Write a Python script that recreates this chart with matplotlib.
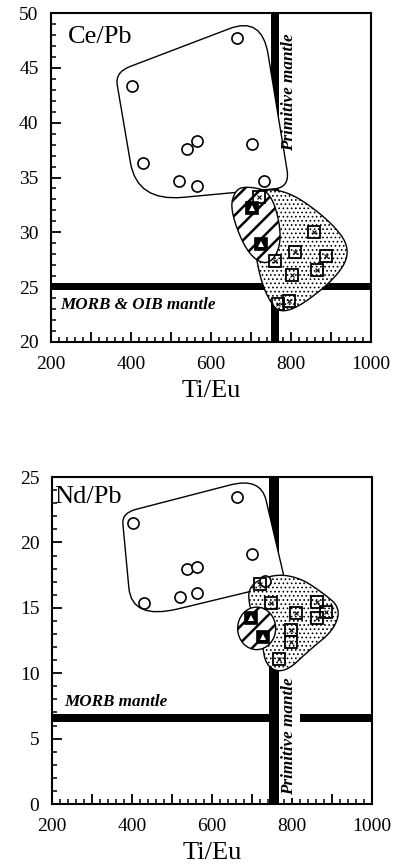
import matplotlib
matplotlib.use('Agg')
import matplotlib.pyplot as plt
from matplotlib.path import Path
from matplotlib.patches import PathPatch, Ellipse, Rectangle
from matplotlib.ticker import MultipleLocator, FuncFormatter
import numpy as np

plt.rcParams['font.family'] = ['Liberation Serif', 'DejaVu Serif']

# ── Ce/Pb panel data ─────────────────────────────────────────────────────────
ce_circ_x = [664, 403, 429, 539, 564, 703, 520, 564, 733]
ce_circ_y = [47.7, 43.3, 36.3, 37.6, 38.3, 38.1, 34.7, 34.25, 34.7]
ce_sq_x = [721, 857, 810, 887, 760, 864, 802, 768, 796]
ce_sq_y = [33.2, 30.05, 28.2, 27.8, 27.4, 26.6, 26.1, 23.5, 23.7]
ce_fill_x = [702, 725]
ce_fill_y = [32.2, 28.9]

# field outlines (Ce/Pb)
ce_open_x = [360, 727, 797, 415]
ce_open_y = [44.6, 49.7, 34.1, 32.8]
ce_open_r = [0.10, 0.22, 0.10, 0.30]
ce_dot_x = [697, 785, 897, 952, 910, 780, 735, 710]
ce_dot_y = [33.7, 34.0, 31.1, 28.4, 25.65, 22.2, 24.3, 27.9]
ce_hat_x = [692, 752, 780, 747, 692, 647, 660]
ce_hat_y = [34.2, 33.7, 29.3, 26.9, 27.9, 32.0, 33.9]

ce_morb = (24.75, 25.4)
ce_prim = (749, 769)

# ── Nd/Pb panel data ─────────────────────────────────────────────────────────
nd_circ_x = [662, 403, 701, 537, 563, 520, 564, 430, 732]
nd_circ_y = [23.45, 21.5, 19.1, 17.97, 18.1, 15.85, 16.1, 15.4, 17.05]
nd_sq_x = [720, 747, 810, 864, 886, 864, 797, 797, 768]
nd_sq_y = [16.85, 15.4, 14.6, 15.45, 14.7, 14.2, 13.3, 12.4, 11.1]
nd_fill_x = [699, 728]
nd_fill_y = [14.2, 12.8]

nd_open_x = [375, 722, 784, 400]
nd_open_y = [22.25, 25.0, 16.9, 14.07]
nd_open_r = [0.10, 0.22, 0.10, 0.30]
nd_dot_x = [690, 757, 820, 875, 922, 905, 845, 782, 735, 725, 695]
nd_dot_y = [16.74, 17.6, 17.3, 16.2, 15.0, 13.3, 11.8, 10.0, 10.5, 12.5, 14.8]
nd_hat_c = (712, 13.43)
nd_hat_w, nd_hat_h = 95, 3.25

nd_morb = (6.27, 6.9)
nd_prim = (742, 767)


def rounded_path(xs, ys, fr):
    pts = np.column_stack([xs, ys]).astype(float)
    n = len(pts)
    verts, codes = [], []
    for i in range(n):
        p0, p1, p2 = pts[i - 1], pts[i], pts[(i + 1) % n]
        a = p1 + (p0 - p1) * fr[i]
        b = p1 + (p2 - p1) * fr[i]
        verts.append(a)
        codes.append(Path.MOVETO if i == 0 else Path.LINETO)
        verts += [p1, b]
        codes += [Path.CURVE3, Path.CURVE3]
    verts.append(verts[0])
    codes.append(Path.CLOSEPOLY)
    return Path(verts, codes)


def chaikin_path(xs, ys, n_iter=4):
    pts = np.column_stack([xs, ys]).astype(float)
    for _ in range(n_iter):
        nxt = np.roll(pts, -1, axis=0)
        q = 0.75 * pts + 0.25 * nxt
        r = 0.25 * pts + 0.75 * nxt
        pts = np.empty((2 * len(q), 2))
        pts[0::2] = q
        pts[1::2] = r
    pts = np.vstack([pts, pts[:1]])
    return Path(pts, closed=True)


def hatched(patch, lw):
    if hasattr(patch, 'set_hatch_linewidth'):
        patch.set_hatch_linewidth(lw)
    return patch


def draw_markers(ax, cx, cy, sx, sy, fx, fy):
    ax.plot(cx, cy, 'o', ms=8, mfc='white', mec='black', mew=1.2, zorder=6)
    ax.plot(sx, sy, 's', ms=8, mfc='none', mec='black', mew=1.3, zorder=6)
    ax.plot(sx, sy, 'x', ms=2.5, mec='black', mew=0.8, zorder=6)
    ax.plot(fx, fy, 's', ms=8, mfc='black', mec='black', mew=1.2, zorder=6)
    ax.plot(fx, fy, '^', ms=4, mfc='white', mec='white', mew=0, zorder=7)


def style_axis(ax, ylim, ymaj):
    ax.set_xlim(200, 1000)
    ax.set_ylim(*ylim)
    ax.xaxis.set_major_locator(MultipleLocator(100))
    ax.xaxis.set_minor_locator(MultipleLocator(20))
    ax.xaxis.set_major_formatter(FuncFormatter(lambda v, _: f'{int(v)}' if v % 200 == 0 else ''))
    ax.yaxis.set_major_locator(MultipleLocator(ymaj))
    ax.yaxis.set_minor_locator(MultipleLocator(1))
    ax.tick_params(which='major', direction='in', length=7, width=1.3, labelsize=14)
    ax.tick_params(which='minor', direction='in', length=3.5, width=1.1)
    ax.tick_params(axis='x', pad=10)
    ax.tick_params(axis='y', pad=9)
    for s in ax.spines.values():
        s.set_linewidth(1.5)
    ax.set_xlabel('Ti/Eu', fontsize=19, labelpad=5)


fig = plt.figure(figsize=(3.99, 8.68), dpi=100)
ax1 = fig.add_axes([0.128, 0.606, 0.802, 0.379])
ax2 = fig.add_axes([0.130, 0.0737, 0.802, 0.3767])

note = dict(fontsize=12.3, style='italic', fontweight='bold')

# ── Ce/Pb ────────────────────────────────────────────────────────────────────
ax1.add_patch(Rectangle((200, ce_morb[0]), 800, ce_morb[1] - ce_morb[0],
                        color='black', lw=0, zorder=1))
ax1.add_patch(Rectangle((ce_prim[0], 20), ce_prim[1] - ce_prim[0], 30,
                        color='black', lw=0, zorder=1))
ax1.add_patch(PathPatch(rounded_path(ce_open_x, ce_open_y, ce_open_r),
                        fc='white', ec='black', lw=1.0, zorder=2))
ax1.add_patch(hatched(PathPatch(chaikin_path(ce_dot_x, ce_dot_y),
                                fc='white', ec='black', lw=1.0, hatch='....', zorder=3), 0.7))
ax1.add_patch(hatched(PathPatch(chaikin_path(ce_hat_x, ce_hat_y),
                                fc='white', ec='black', lw=1.0, hatch='//', zorder=4), 1.8))
draw_markers(ax1, ce_circ_x, ce_circ_y, ce_sq_x, ce_sq_y, ce_fill_x, ce_fill_y)
ax1.text(242, 47.8, 'Ce/Pb', fontsize=19, va='center', ha='left', zorder=8)
ax1.text(222, 23.4, 'MORB & OIB mantle', va='center', ha='left', zorder=8, **note)
ax1.text(774, 42.8, 'Primitive mantle', rotation=90, va='center', ha='left', zorder=8, **note)
style_axis(ax1, (20, 50), 5)

# ── Nd/Pb ────────────────────────────────────────────────────────────────────
ax2.add_patch(Rectangle((200, nd_morb[0]), 800, nd_morb[1] - nd_morb[0],
                        color='black', lw=0, zorder=1))
ax2.add_patch(Rectangle((nd_prim[0], 0), nd_prim[1] - nd_prim[0], 25,
                        color='black', lw=0, zorder=1))
ax2.add_patch(PathPatch(rounded_path(nd_open_x, nd_open_y, nd_open_r),
                        fc='white', ec='black', lw=1.0, zorder=2))
ax2.add_patch(hatched(PathPatch(chaikin_path(nd_dot_x, nd_dot_y),
                                fc='white', ec='black', lw=1.0, hatch='....', zorder=3), 0.7))
ax2.add_patch(hatched(Ellipse(nd_hat_c, nd_hat_w, nd_hat_h,
                              fc='white', ec='black', lw=1.0, hatch='//', zorder=4), 1.8))
draw_markers(ax2, nd_circ_x, nd_circ_y, nd_sq_x, nd_sq_y, nd_fill_x, nd_fill_y)
ax2.text(205, 23.5, 'Nd/Pb', fontsize=19, va='center', ha='left', zorder=8)
ax2.text(232, 7.8, 'MORB mantle', va='center', ha='left', zorder=8, **note)
ax2.text(774, 5.15, 'Primitive mantle', rotation=90, va='center', ha='left', zorder=8,
         bbox=dict(fc='white', ec='none', pad=2), **note)
style_axis(ax2, (0, 25), 5)

fig.savefig('out.png', dpi=100)
